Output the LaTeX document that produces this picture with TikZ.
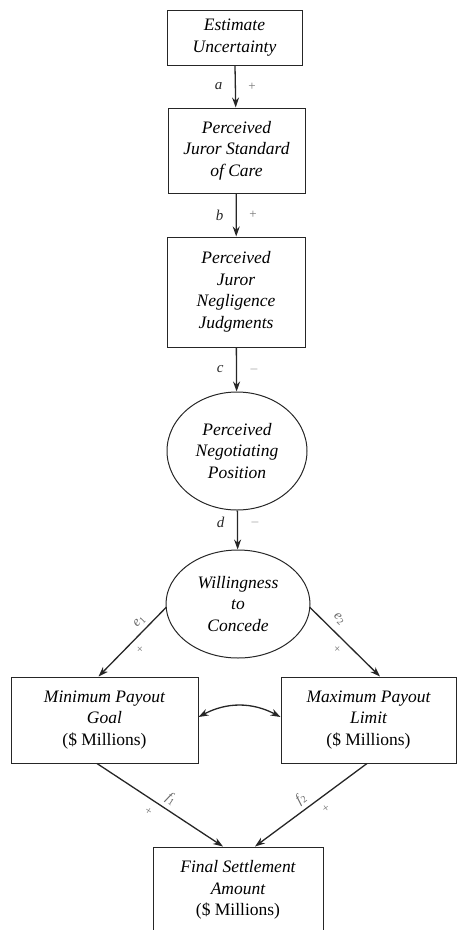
\documentclass[tikz,border=0pt]{standalone}
\usepackage{fontspec}
\setmainfont{Liberation Serif}
\usetikzlibrary{arrows.meta,shapes.geometric,calc}
\begin{document}
\begin{tikzpicture}[x=1pt,y=-1pt,
  every node/.style={font=\fontsize{17.5}{21.5}\selectfont\itshape, align=center},
  box/.style={draw=black!85, line width=1pt, inner sep=0pt},
  oval/.style={draw=black!85, line width=1pt, ellipse, inner sep=0pt},
  tip/.style={},
  link/.style={draw=black!85, line width=1.3pt, -{Stealth[length=10pt,width=7pt]}},
  lab/.style={font=\fontsize{15}{15}\selectfont\itshape, text=black!85},
  sgn/.style={font=\fontsize{13}{13}\selectfont, text=black!55},
  dlab/.style={font=\fontsize{14}{14}\selectfont\itshape, text=black!60, sloped, inner sep=1pt},
  dsgn/.style={font=\fontsize{12}{12}\selectfont, text=black!55, sloped, inner sep=1pt}]
\useasboundingbox (0,0) rectangle (457,930);
\node[box, minimum width=135, minimum height=55] (est) at (234.5,37.5) {Estimate\\Uncertainty};
\node[box, minimum width=137, minimum height=85] (care) at (236.5,150.5) {Perceived\\Juror Standard\\of Care};
\node[box, minimum width=138, minimum height=110] (negl) at (236,292) {Perceived\\Juror\\Negligence\\Judgments};
\node[oval, minimum width=140, minimum height=118] (pos) at (237,451) {Perceived\\Negotiating\\Position};
\node[oval, minimum width=144, minimum height=108] (will) at (238,604) {Willingness\\to\\Concede};
\node[box, minimum width=187, minimum height=86] (min) at (104.5,720) {Minimum Payout\\Goal\\{\upshape(\$ Millions)}};
\node[box, minimum width=175, minimum height=86] (max) at (368.5,720) {Maximum Payout\\Limit\\{\upshape(\$ Millions)}};
\node[box, minimum width=170, minimum height=86] (fin) at (238,890) {Final Settlement\\Amount\\{\upshape(\$ Millions)}};

\draw[link] (est) -- node[lab, left=9pt] {a} node[sgn, right=9pt] {+} (care);
\draw[link] (care) -- node[lab, left=9pt] {b} node[sgn, right=9pt] {+} (negl);
\draw[link] (negl) -- node[lab, left=9pt] {c} node[sgn, right=9pt] {$-$} (pos);
\draw[link] (pos) -- node[lab, left=9pt, pos=0.3] {d} node[sgn, right=9pt, pos=0.3] {$-$} (will);

\draw[link] ($(will.west)+(1,3)$) -- node[dlab, above=3pt, pos=0.3] {e\textsubscript{\upshape 1}} node[dsgn, below=6pt, pos=0.5] {+} ($(min.north)+(-6,0)$);
\draw[link] ($(will.east)+(-1,3)$) -- node[dlab, above=6pt, pos=0.3] {e\textsubscript{\upshape 2}} node[dsgn, below=6pt, pos=0.5] {+} ($(max.north)+(11.5,0)$);
\draw[link] ($(min.south)+(-7.5,0)$) -- node[dlab, above=3pt, pos=0.54] {f\textsubscript{\upshape 1}} node[dsgn, below=7pt, pos=0.46] {+} ($(fin.north)+(-15,0)$);
\draw[link] ($(max.south)+(-1.5,0)$) -- node[dlab, above=3pt, pos=0.53] {f\textsubscript{\upshape 2}} node[dsgn, below=7pt, pos=0.43] {+} ($(fin.north)+(17,0)$);

\draw[draw=black!85, line width=1.3pt, {Stealth[length=10pt,width=7pt]}-{Stealth[length=10pt,width=7pt]}] ($(min.east)+(0,-3)$) to[bend left=28] ($(max.west)+(0,-3)$);
\end{tikzpicture}
\end{document}
